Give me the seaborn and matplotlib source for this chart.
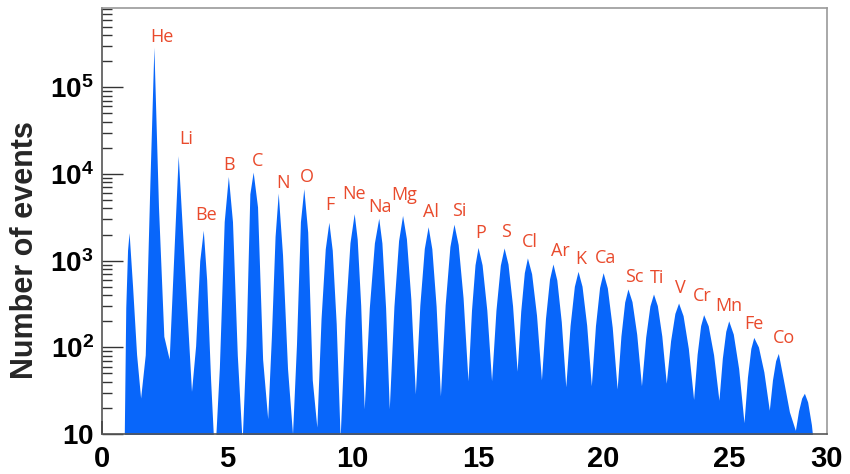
import matplotlib
matplotlib.use("Agg")
import matplotlib.pyplot as plt
import pandas as pd
import seaborn as sns
from matplotlib.ticker import FixedLocator, LogLocator, NullFormatter

# ---- charge spectrum: peaks, flanks and valleys of the Z distribution ----
peak_z = [1.08, 2.07, 3.04, 4.04, 5.04, 6.03, 7.03, 8.05, 9.05, 10.06,
          11.04, 11.99, 13.01, 14.04, 15.00, 16.04, 16.97, 17.99, 18.99, 19.99,
          20.98, 22.00, 23.00, 24.00, 25.00, 26.00, 26.98, 28.02]
peak_counts = [2100, 290000, 16200, 2240, 9350, 10500, 6000, 6750, 2770, 3480,
               3080, 3320, 2460, 2630, 1420, 1400, 1075, 915, 752, 726,
               471, 412, 324, 238, 202, 130, 85, 29.5]
# counts on the flanks, at 30 % and 65 % of the way from the peak to the valley
left_upper_counts = [1320, 7940, 3210, 1000, 2820, 5900, 1900, 2800, 1365, 1607,
                     1596, 1702, 1380, 1452, 895, 885, 726, 612, 505, 491,
                     333, 300, 246, 178, 153, 97, 70, 26]
left_lower_counts = [288, 82, 483, 104, 59, 104, 132, 107, 214, 212,
                     285, 297, 305, 308, 268, 267, 261, 215, 178, 177,
                     135, 131, 119, 83, 75, 45, 42, 18.5]
right_upper_counts = [513, 4170, 2480, 600, 2820, 4170, 1170, 2130, 1315, 1774,
                      1596, 1791, 1371, 1531, 895, 914, 705, 598, 506, 485,
                      337, 303, 232, 177, 142, 101, 42, 23.4]
right_lower_counts = [83, 134, 277, 42, 81, 73, 57, 42, 188, 305,
                      285, 357, 298, 372, 268, 301, 234, 197, 180, 170,
                      141, 135, 97, 82, 57, 52, 18, 12.8]
valley_z = [0.877, 1.54, 2.68, 3.57, 4.49, 5.59, 6.61, 7.60, 8.57, 9.50,
            10.46, 11.46, 12.50, 13.50, 14.60, 15.54, 16.56, 17.53, 18.50, 19.52,
            20.55, 21.52, 22.51, 23.60, 24.61, 25.61, 26.62, 27.66, 28.45]
valley_counts = [5, 26, 73, 31, 5, 8, 15, 10, 12, 9,
                 19.5, 19.5, 29, 27.5, 41, 41, 53, 42, 35, 36,
                 33, 36, 38.5, 25, 24.5, 13.5, 18.8, 11, 5]

element_symbols = ["He", "Li", "Be", "B", "C", "N", "O", "F", "Ne", "Na",
                   "Mg", "Al", "Si", "P", "S", "Cl", "Ar", "K", "Ca", "Sc",
                   "Ti", "V", "Cr", "Mn", "Fe", "Co"]

x_tick_labels = ["0", "5", "10", "15", "20", "25", "30"]
y_tick_labels = [r"$10$", r"$10^{2}$", r"$10^{3}$", r"$10^{4}$", r"$10^{5}$"]

# label placement relative to each peak (pixels, text baseline)
label_offsets = [(8, 5.5), (8, 11.5), (3, 10.5), (1, 6.5), (4, 6.5), (5, 5.5),
                 (3, 6.5), (1, 12.5), (0, 14.5), (1, 6.5), (2, 15.5), (3, 9.5),
                 (5, 8.5), (3, 9.5), (2, 10.5), (2, 10.5), (7, 7.5), (3, 7.5),
                 (2, 9.5), (6, 6.5), (4, 10.5), (2, 10.5), (-1, 13.5), (0, 9.5),
                 (0, 8.5), (6, 10.5)]

BLUE = "#0866fa"
RED = "#e94a2c"
FLANK_STEPS = (0.30, 0.65)
X_END = 28.92

# ---- assemble the outline of the spectrum ----
z_line = [valley_z[0]]
n_line = [valley_counts[0]]
for i, zp in enumerate(peak_z):
    zl, zr = valley_z[i], valley_z[i + 1]
    z_line += [zp - FLANK_STEPS[1] * (zp - zl), zp - FLANK_STEPS[0] * (zp - zl),
               zp,
               zp + FLANK_STEPS[0] * (zr - zp), zp + FLANK_STEPS[1] * (zr - zp),
               zr]
    n_line += [left_lower_counts[i], left_upper_counts[i], peak_counts[i],
               right_upper_counts[i], right_lower_counts[i], valley_counts[i + 1]]
spectrum = pd.DataFrame({"charge": z_line, "events": n_line})

# ---- style ----
sns.set_style("white")
plt.rcParams["font.family"] = ["Liberation Sans", "DejaVu Sans"]
plt.rcParams["font.weight"] = "bold"
plt.rcParams["mathtext.fontset"] = "custom"
plt.rcParams["mathtext.rm"] = "Liberation Sans:bold"
plt.rcParams["mathtext.it"] = "Liberation Sans:bold"
plt.rcParams["mathtext.bf"] = "Liberation Sans:bold"
plt.rcParams["mathtext.default"] = "rm"

fig = plt.figure(figsize=(8.5, 4.74), dpi=100)
ax = fig.add_axes([0.12, 0.0844, 0.8529, 0.8987])
ax.set_yscale("log")

# spectrum outline (seaborn), filled down to the bottom of the frame
sns.lineplot(data=spectrum, x="charge", y="events", sort=False,
             estimator=None, color=BLUE, lw=0, ax=ax, zorder=2)
outline = ax.lines[0]
ax.fill_between(outline.get_xdata(), outline.get_ydata(), 1,
                color=BLUE, lw=0, zorder=1)

ax.set_xlim(0, X_END)
ax.set_ylim(10, 8.2e5)

# x axis
ax.set_xticks([0, 5, 10, 15, 20, 25, X_END], x_tick_labels)
ax.xaxis.set_minor_locator(FixedLocator(list(range(1, 29))))
ax.tick_params(axis="x", which="major", direction="in", length=9.5, width=1.2,
               pad=8, labelsize=21, colors="black", bottom=True, top=False)
ax.tick_params(axis="x", which="minor", direction="in", length=4.5, width=1.2,
               colors="black", bottom=True, top=False)
ax.xaxis.get_major_ticks()[-1].tick1line.set_visible(False)

# y axis
ax.set_yticks([10, 100, 1e3, 1e4, 1e5], y_tick_labels)
ax.yaxis.set_minor_locator(LogLocator(base=10, subs=range(2, 10)))
ax.yaxis.set_minor_formatter(NullFormatter())
ax.tick_params(axis="y", which="major", direction="in", length=15, width=1.0,
               pad=6, labelsize=20, color="#333333", labelcolor="black",
               left=True, right=False)
ax.tick_params(axis="y", which="minor", direction="in", length=7.5, width=1.0,
               color="#333333", left=True, right=False)

ax.set_xlabel("")
ax.set_ylabel("Number of events", fontsize=22, fontweight="bold")
ax.yaxis.label.set_va("center")
ax.yaxis.set_label_coords(-0.106, 0.432)

for side in ("top", "right"):
    ax.spines[side].set_color("#9a9a9a")
    ax.spines[side].set_linewidth(1.2)
for side in ("left", "bottom"):
    ax.spines[side].set_color("#555555")
    ax.spines[side].set_linewidth(1.2)

# element names above their peaks
for sym, z, n, (dx, dy) in zip(element_symbols, peak_z[1:], peak_counts[1:],
                               label_offsets):
    ax.annotate(sym, (z, n), xytext=(dx, dy), textcoords="offset pixels",
                ha="center", va="baseline", color=RED, fontsize=13,
                family=["Open Sans", "DejaVu Sans"], fontweight="normal",
                zorder=5)

fig.savefig("out.png", dpi=100)
